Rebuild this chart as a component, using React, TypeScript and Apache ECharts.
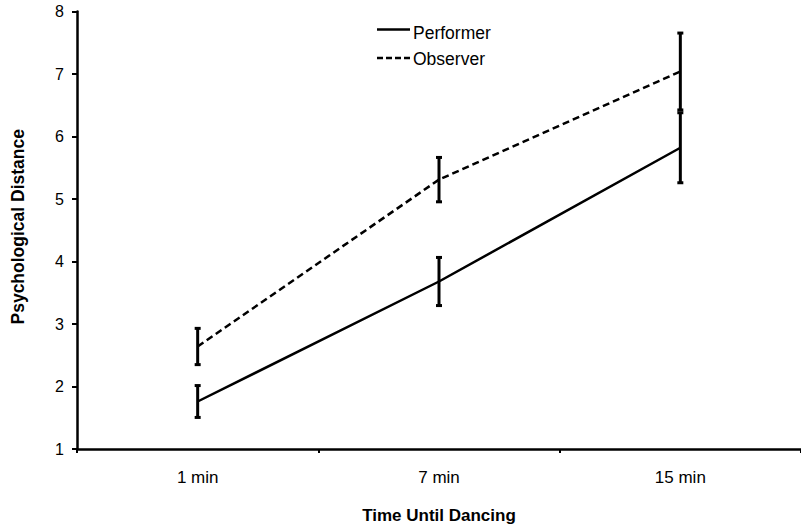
import React, { useEffect, useRef } from "react";
import * as echarts from "echarts";

const categories = ["1 min", "7 min", "15 min"];
const performerMean = [1.76, 3.68, 5.82];
const performerErr = [0.255, 0.385, 0.56];
const observerMean = [2.64, 5.31, 7.04];
const observerErr = [0.29, 0.355, 0.615];
const yTicks = [1, 2, 3, 4, 5, 6, 7, 8];
const legendNames = ["Performer", "Observer"];

const FONT = "'Liberation Sans', Arial, Helvetica, sans-serif";
const OBS_DASH = [7, 4];

function errorSeries(name: string, means: number[], errs: number[]) {
  const data = means.map((m, i) => [i, m - errs[i], m + errs[i]]);
  return {
    type: "custom",
    name: name + "-err",
    data,
    z: 5,
    renderItem: (_params: any, api: any) => {
      const x = api.value(0);
      const lo = api.coord([x, api.value(1)]);
      const hi = api.coord([x, api.value(2)]);
      const cap = 3;
      const style = { stroke: "#000", lineWidth: 3 };
      return {
        type: "group",
        children: [
          { type: "line", shape: { x1: lo[0], y1: lo[1], x2: hi[0], y2: hi[1] }, style },
          { type: "line", shape: { x1: lo[0] - cap, y1: lo[1], x2: lo[0] + cap, y2: lo[1] }, style },
          { type: "line", shape: { x1: hi[0] - cap, y1: hi[1], x2: hi[0] + cap, y2: hi[1] }, style },
        ],
      };
    },
  };
}

export default function App() {
  const ref = useRef<HTMLDivElement>(null);
  useEffect(() => {
    document.body.style.margin = "0";
    if (!ref.current) return;
    const chart = echarts.init(ref.current, null, { renderer: "svg" });
    const legendRows = [
      { name: legendNames[0], lineY: 29.5, textY: 33, dash: null as any },
      { name: legendNames[1], lineY: 58, textY: 58.5, dash: [6, 3] },
    ];
    chart.setOption({
      animation: false,
      backgroundColor: "#fff",
      textStyle: { fontFamily: FONT, color: "#000" },
      grid: { left: 77, top: 11.5, width: 733.5, height: 443, containLabel: false },
      graphic: legendRows.flatMap((r) => [
        {
          type: "line",
          shape: { x1: 377, y1: r.lineY, x2: 410, y2: r.lineY },
          style: { stroke: "#000", lineWidth: 2.5, lineDash: r.dash },
          z: 10,
        },
        {
          type: "text",
          x: 413,
          y: r.textY,
          style: {
            text: r.name,
            fontFamily: FONT,
            fontSize: 17.5,
            fill: "#000",
            verticalAlign: "middle",
            align: "left",
          },
          z: 10,
        },
      ]),
      xAxis: {
        type: "category",
        data: categories,
        boundaryGap: true,
        name: "Time Until Dancing",
        nameLocation: "middle",
        nameGap: 58,
        nameTextStyle: { fontFamily: FONT, fontSize: 17, fontWeight: "bold", color: "#000" },
        axisLine: { lineStyle: { color: "#000", width: 2.5 } },
        axisTick: { show: true, length: 4, inside: false, lineStyle: { color: "#000", width: 2 } },
        axisLabel: { fontFamily: FONT, fontSize: 17, color: "#000", margin: 20 },
        splitLine: { show: false },
      },
      yAxis: {
        type: "value",
        min: yTicks[0],
        max: yTicks[yTicks.length - 1],
        interval: 1,
        name: "Psychological Distance",
        nameLocation: "middle",
        nameGap: 50,
        nameRotate: 90,
        nameTextStyle: {
          fontFamily: FONT,
          fontSize: 17.5,
          fontWeight: "bold",
          color: "#000",
          padding: [0, 0, 0, 7],
        },
        axisLine: { show: true, lineStyle: { color: "#000", width: 2.5 } },
        axisTick: { show: true, length: 5, lineStyle: { color: "#000", width: 2 } },
        axisLabel: { fontFamily: FONT, fontSize: 16, color: "#000", margin: 13 },
        splitLine: { show: false },
      },
      series: [
        {
          type: "line",
          name: legendNames[0],
          data: performerMean,
          symbol: "none",
          lineStyle: { color: "#000", width: 2.5, type: "solid" },
          z: 3,
        },
        {
          type: "line",
          name: legendNames[1],
          data: observerMean,
          symbol: "none",
          lineStyle: { color: "#000", width: 2.5, type: OBS_DASH },
          z: 3,
        },
        errorSeries(legendNames[0], performerMean, performerErr),
        errorSeries(legendNames[1], observerMean, observerErr),
      ],
    });
    return () => chart.dispose();
  }, []);
  return <div ref={ref} style={{ width: 801, height: 529 }} />;
}
